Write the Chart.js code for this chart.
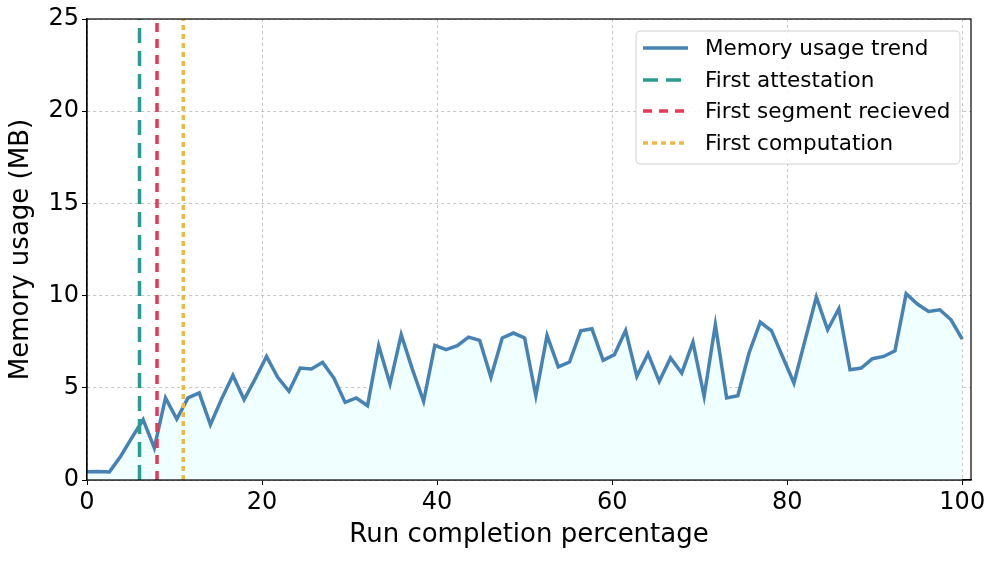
<!DOCTYPE html>
<html>
<head>
<meta charset="utf-8">
<script src="https://cdn.jsdelivr.net/npm/chart.js@4/dist/chart.umd.min.js"></script>
<style>
  html, body { margin: 0; padding: 0; background: #ffffff; }
  #wrap { width: 996px; height: 561px; }
</style>
</head>
<body>
<div id="wrap"><canvas id="c" width="996" height="561"></canvas></div>
<script>
// ---- data ----
const completionPct = [0, 1.28, 2.56, 3.85, 5.13, 6.41, 7.69, 8.97, 10.26, 11.54, 12.82, 14.10, 15.38, 16.67, 17.95, 19.23, 20.51, 21.79, 23.08, 24.36, 25.64, 26.92, 28.21, 29.49, 30.77, 32.05, 33.33, 34.62, 35.90, 37.18, 38.46, 39.74, 41.03, 42.31, 43.59, 44.87, 46.15, 47.44, 48.72, 50.00, 51.28, 52.56, 53.85, 55.13, 56.41, 57.69, 58.97, 60.26, 61.54, 62.82, 64.10, 65.38, 66.67, 67.95, 69.23, 70.51, 71.79, 73.08, 74.36, 75.64, 76.92, 78.21, 79.49, 80.77, 82.05, 83.33, 84.62, 85.90, 87.18, 88.46, 89.74, 91.03, 92.31, 93.59, 94.87, 96.15, 97.44, 98.72, 100];
const memoryMB = [0.45, 0.46, 0.44, 1.29, 2.3, 3.27, 1.74, 4.45, 3.31, 4.45, 4.72, 3.0, 4.4, 5.67, 4.36, 5.5, 6.7, 5.57, 4.81, 6.07, 6.02, 6.38, 5.53, 4.21, 4.45, 4.03, 7.28, 5.21, 7.88, 6.0, 4.27, 7.3, 7.07, 7.28, 7.75, 7.57, 5.57, 7.7, 7.97, 7.7, 4.57, 7.84, 6.13, 6.4, 8.09, 8.2, 6.49, 6.8, 8.11, 5.62, 6.85, 5.35, 6.62, 5.8, 7.48, 4.54, 8.42, 4.45, 4.57, 6.89, 8.56, 8.09, 6.67, 5.26, 7.6, 9.92, 8.15, 9.29, 5.98, 6.07, 6.58, 6.7, 7.01, 10.1, 9.54, 9.14, 9.23, 8.69, 7.64];
const eventNames = ["First attestation", "First segment recieved", "First computation"];
const eventPct = [6, 8, 11];
const seriesName = "Memory usage trend";
const xTicks = [0, 20, 40, 60, 80, 100];
const yTicks = [0, 5, 10, 15, 20, 25];
const xTitle = "Run completion percentage";
const yTitle = "Memory usage (MB)";

// ---- styles ----
const FONT = "'DejaVu Sans', sans-serif";
const eventColors = ["#2a9d8f", "#e63956", "#e9b949"];
const eventDash = [[15, 8], [9, 7], [5, 4]];

const memPoints = completionPct.map((x, i) => ({ x: x, y: memoryMB[i] }));

const datasets = [{
  label: seriesName,
  data: memPoints,
  borderColor: "#4682b4",
  backgroundColor: "#f0ffff",
  borderWidth: 3.5,
  fill: "origin",
  pointRadius: 0,
  tension: 0,
  order: 10,
  legendDash: []
}];
eventPct.forEach((p, i) => {
  datasets.push({
    label: eventNames[i],
    data: [{ x: p, y: yTicks[0] }, { x: p, y: yTicks[yTicks.length - 1] }],
    borderColor: eventColors[i],
    borderWidth: 3.5,
    borderDash: eventDash[i],
    borderCapStyle: "butt",
    pointRadius: 0,
    fill: false,
    order: 5 - i,
    legendDash: eventDash[i]
  });
});

const framePlugin = {
  id: "frame",
  afterDatasetsDraw(chart) {
    const { ctx, chartArea: a } = chart;
    ctx.save();
    ctx.strokeStyle = "#000";
    ctx.lineWidth = 1.2;
    ctx.strokeRect(a.left, a.top, a.right - a.left, a.bottom - a.top);
    ctx.restore();
  }
};

const legendPlugin = {
  id: "boxLegend",
  afterDraw(chart) {
    const { ctx } = chart;
    const bx = 636, by = 31, bw = 324, bh = 133, r = 5;
    ctx.save();
    ctx.beginPath();
    ctx.moveTo(bx + r, by);
    ctx.lineTo(bx + bw - r, by);
    ctx.quadraticCurveTo(bx + bw, by, bx + bw, by + r);
    ctx.lineTo(bx + bw, by + bh - r);
    ctx.quadraticCurveTo(bx + bw, by + bh, bx + bw - r, by + bh);
    ctx.lineTo(bx + r, by + bh);
    ctx.quadraticCurveTo(bx, by + bh, bx, by + bh - r);
    ctx.lineTo(bx, by + r);
    ctx.quadraticCurveTo(bx, by, bx + r, by);
    ctx.closePath();
    ctx.fillStyle = "rgba(255,255,255,0.85)";
    ctx.fill();
    ctx.strokeStyle = "#d0d0d0";
    ctx.lineWidth = 1;
    ctx.stroke();
    const rowY = [48, 80, 111, 143];
    chart.data.datasets.forEach((ds, i) => {
      const y = rowY[i];
      ctx.beginPath();
      ctx.setLineDash(ds.legendDash || []);
      ctx.strokeStyle = ds.borderColor;
      ctx.lineWidth = 3.5;
      ctx.lineCap = "butt";
      ctx.moveTo(643, y);
      ctx.lineTo(688, y);
      ctx.stroke();
      ctx.setLineDash([]);
      ctx.fillStyle = "#000";
      ctx.font = "21.5px " + FONT;
      ctx.textBaseline = "middle";
      ctx.textAlign = "left";
      ctx.fillText(ds.label, 705, y + 1);
    });
    ctx.restore();
  }
};

new Chart(document.getElementById("c"), {
  type: "line",
  data: { datasets: datasets },
  options: {
    responsive: false,
    animation: false,
    devicePixelRatio: 1,
    layout: { padding: { top: 19, right: 25, left: 0, bottom: 0 } },
    plugins: { legend: { display: false }, tooltip: { enabled: false } },
    scales: {
      x: {
        type: "linear",
        min: 0,
        max: 101,
        afterBuildTicks(s) { s.ticks = xTicks.map(v => ({ value: v })); },
        afterFit(s) { s.height = 81; },
        ticks: { color: "#000", font: { family: FONT, size: 24 }, padding: 3, maxRotation: 0 },
        grid: { color: "#b8b8b8", lineWidth: 0.8, tickLength: 5, tickColor: "#000", tickWidth: 1 },
        border: { color: "#000", width: 1.2, dash: [3, 3] },
        title: { display: true, text: xTitle, color: "#000", font: { family: FONT, size: 26 }, padding: { top: 0, bottom: 10 } }
      },
      y: {
        type: "linear",
        min: 0,
        max: 25,
        afterBuildTicks(s) { s.ticks = yTicks.map(v => ({ value: v })); },
        afterFit(s) { s.width = 87; },
        ticks: { color: "#000", font: { family: FONT, size: 24 }, padding: 3 },
        grid: { color: "#b8b8b8", lineWidth: 0.8, tickLength: 5, tickColor: "#000", tickWidth: 1 },
        border: { color: "#000", width: 1.2, dash: [3, 3] },
        title: { display: true, text: yTitle, color: "#000", font: { family: FONT, size: 26 }, padding: { top: 6, bottom: 0 } }
      }
    }
  },
  plugins: [framePlugin, legendPlugin]
});
</script>
</body>
</html>
